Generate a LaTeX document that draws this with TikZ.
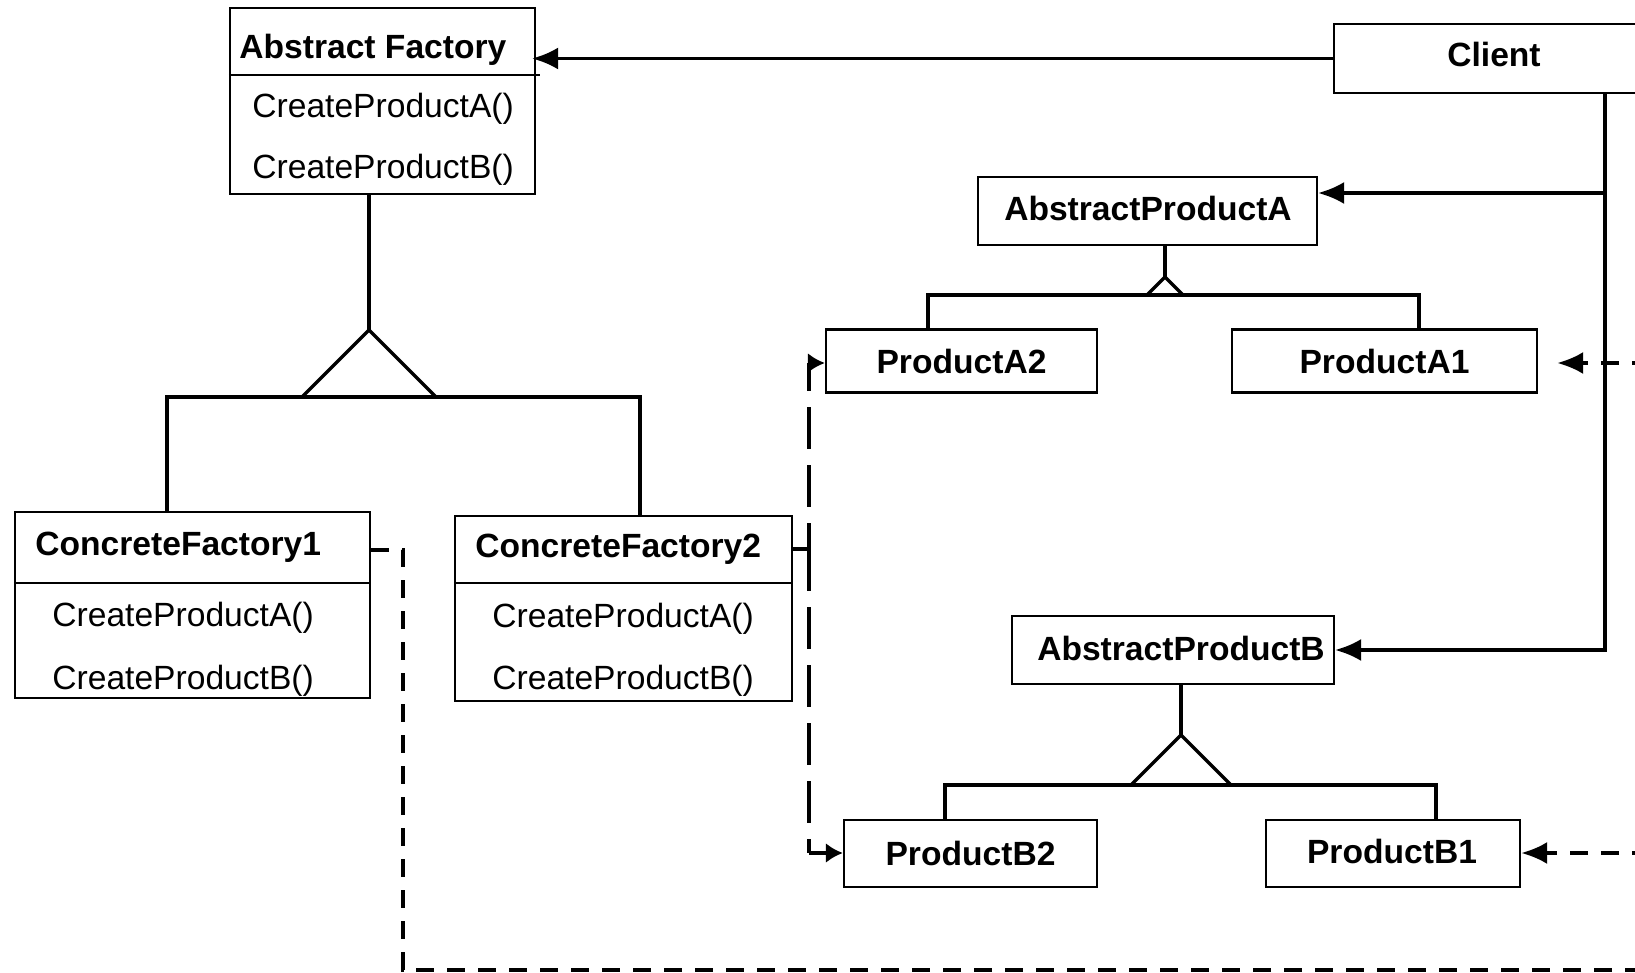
\documentclass[tikz,border=0pt]{standalone}
\usepackage{fontspec}
\setmainfont{Liberation Sans}
\usetikzlibrary{arrows.meta}
\newcommand{\diagfs}{\fontsize{16.8}{20}\selectfont}
\begin{document}
\begin{tikzpicture}[x=0.5pt,y=-0.5pt,
  box/.style={draw, line width=1.1pt, fill=white, inner sep=0pt, font=\diagfs\bfseries},
  txt/.style={inner sep=0pt, font=\diagfs},
  ttl/.style={inner sep=0pt, font=\diagfs\bfseries},
  conn/.style={line width=1.6pt},
  headtip/.style={-{Latex[length=13pt,width=11pt]}},
  smallhead/.style={-{Latex[length=8.5pt,width=10pt]}},
  arr/.style={conn, headtip},
  shortdash/.style={line width=1.8pt, dash pattern=on 9pt off 6.5pt},
  longdash/.style={line width=1.8pt, dash pattern=on 21pt off 8pt},
]
\useasboundingbox (0,0) rectangle (1635,973);
\clip (0,0) rectangle (1635,973);

% boxes
\node[box, minimum width=152.5pt, minimum height=93pt] (af) at (382.5,101) {};
\node[box, minimum width=160pt, minimum height=34.5pt] (client) at (1494,58.5) {};
\node[box, minimum width=169.5pt, minimum height=34pt] (apa) at (1147.5,211) {};
\node[box, minimum width=135.5pt, minimum height=31.5pt] (pa2) at (961.5,361) {ProductA2};
\node[box, minimum width=152.5pt, minimum height=31.5pt] (pa1) at (1384.5,361) {ProductA1};
\node[box, minimum width=161pt, minimum height=34pt] (apb) at (1173,650) {};
\node[box, minimum width=126.5pt, minimum height=33.5pt] (pb2) at (970.5,853.5) {ProductB2};
\node[box, minimum width=127pt, minimum height=33.5pt] (pb1) at (1393,853.5) {};
\node[box, minimum width=177.5pt, minimum height=93pt] (cf1) at (192.5,605) {};
\node[box, minimum width=168.5pt, minimum height=92.5pt] (cf2) at (623.5,608.5) {};

% compartment dividers
\draw[line width=1.1pt] (af.west |- 0,75) -- ([xshift=2pt]af.east |- 0,75);
\draw[line width=1.1pt] (cf1.west |- 0,583) -- (cf1.east |- 0,583);
\draw[line width=1.1pt] (cf2.west |- 0,583) -- (cf2.east |- 0,583);

% texts
\node[ttl] (clientt) at (1494,54) {Client};
\node[ttl] (apat) at (1148,208) {AbstractProductA};
\node[ttl] (apbt) at (1181,648) {AbstractProductB};
\node[ttl] (pb1t) at (1392,851) {ProductB1};
\node[ttl, anchor=base west] (aft) at (239,59) {Abstract Factory};
\node[txt, anchor=base west] (afa) at (252,118) {CreateProductA()};
\node[txt, anchor=base west] (afb) at (252,179) {CreateProductB()};
\node[ttl, anchor=base west] (cf1t) at (35,555) {ConcreteFactory1};
\node[txt, anchor=base west] (cf1a) at (52,626) {CreateProductA()};
\node[txt, anchor=base west] (cf1b) at (52,689) {CreateProductB()};
\node[ttl, anchor=base west] (cf2t) at (475,558) {ConcreteFactory2};
\node[txt, anchor=base west] (cf2a) at (492,627) {CreateProductA()};
\node[txt, anchor=base west] (cf2b) at (492,689) {CreateProductB()};

% client associations
\draw[arr, shorten >=-2pt] (client.west) -- (af.east |- client.west);
\coordinate (j1) at (1605,193);
\draw[arr] (client.south -| j1) |- (apb.east);
\draw[arr] (j1) -- (apa.east |- j1);

% inheritance: abstract factory
\coordinate (t1) at (369,330);
\draw[conn] (af.south -| t1) -- (t1);
\draw[conn, line join=miter] (t1) -- ++(-67,67) -- ++(134,0) -- cycle;
\coordinate (b1l) at (167,397);
\coordinate (b1r) at (640,397);
\draw[conn] (cf1.north -| b1l) -- (b1l) -- (b1r) -- (cf2.north -| b1r);

% inheritance: product A
\coordinate (t2) at (1165,277);
\draw[conn] (apa.south -| t2) -- (t2);
\draw[conn, line join=miter] (t2) -- ++(-18,18) -- ++(36,0) -- cycle;
\coordinate (b2l) at (928,295);
\coordinate (b2r) at (1419,295);
\draw[conn] (pa2.north -| b2l) -- (b2l) -- (b2r) -- (pa1.north -| b2r);

% inheritance: product B
\coordinate (t3) at (1181,735);
\draw[conn] (apb.south -| t3) -- (t3);
\draw[conn, line join=miter] (t3) -- ++(-50,50) -- ++(100,0) -- cycle;
\coordinate (b3l) at (945,785);
\coordinate (b3r) at (1436,785);
\draw[conn] (pb2.north -| b3l) -- (b3l) -- (b3r) -- (pb1.north -| b3r);

% creation dependencies
\coordinate (d1) at (403,550);
\coordinate (d1b) at (403,970);
\coordinate (e1) at (1650,970);
\draw[shortdash] (cf1.east |- d1) -- (d1) -- (d1b) -- (e1);

\coordinate (d2) at (809,549);
\coordinate (d2a) at (809,363);
\coordinate (d2b) at (809,853);
\draw[longdash] (cf2.east |- d2) -- (d2) -- (d2a);
\draw[line width=1.8pt, smallhead] (d2a) -- (pa2.west |- d2a);
\draw[longdash] (d2) -- (d2b);
\draw[line width=1.8pt, smallhead] (d2b) -- (pb2.west |- d2b);

\coordinate (ea) at (1650,363);
\draw[shortdash, headtip, shorten >=9.5pt] (ea) -- (pa1.east |- ea);
\coordinate (eb) at (1650,853);
\draw[shortdash, headtip] (eb) -- (pb1.east |- eb);
\end{tikzpicture}
\end{document}
